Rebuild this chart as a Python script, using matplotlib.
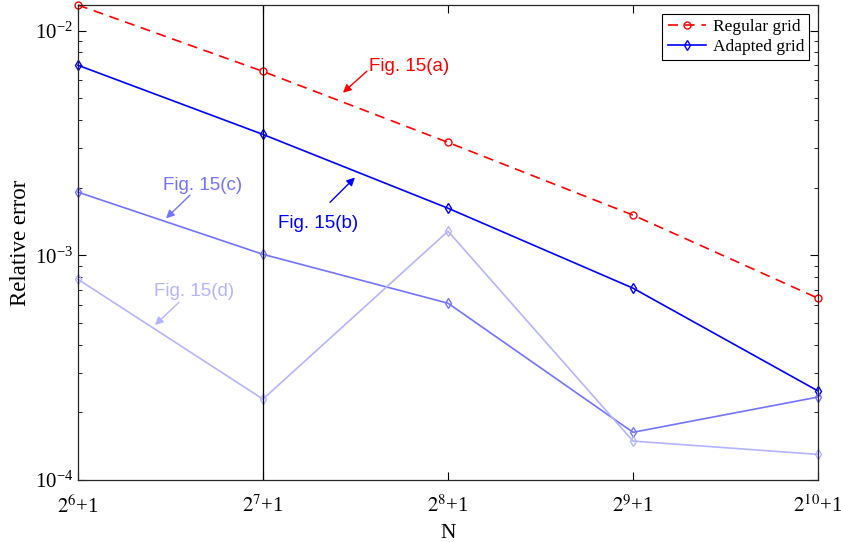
import matplotlib
matplotlib.use("Agg")
import matplotlib.pyplot as plt
from matplotlib.ticker import LogLocator, NullFormatter

# -------------------------------
# Data
# -------------------------------
x_pos = [6, 7, 8, 9, 10]
x_labels = [r"$2^{6}$+1", r"$2^{7}$+1", r"$2^{8}$+1", r"$2^{9}$+1", r"$2^{10}$+1"]

regular_grid = [0.0130, 0.00658, 0.00318, 0.00151, 0.000644]
adapted_grid = [0.00701, 0.00345, 0.00162, 0.000714, 0.000249]
fig15c = [0.00191, 0.00101, 0.000612, 0.000163, 0.000234]
fig15d = [0.000782, 0.000229, 0.00128, 0.000149, 0.000130]

# annotation labels: text position, arrow tail, arrow head (data coords)
ann_labels = ["Fig. 15(a)", "Fig. 15(b)", "Fig. 15(c)", "Fig. 15(d)"]
ann_text_xy = [(7.573, 0.00664), (7.081, 0.00132), (6.459, 0.00196), (6.411, 0.000658)]
ann_tail_xy = [(7.562, 0.00660), (7.362, 0.00172), (6.605, 0.00185), (6.546, 0.000618)]
ann_head_xy = [(7.432, 0.00529), (7.497, 0.00222), (6.476, 0.00146), (6.416, 0.000489)]
ann_colors = ["red", "blue", "#7373ff", "#b4b4ff"]

plt.rcParams["font.family"] = ["Liberation Serif", "DejaVu Serif"]
plt.rcParams["mathtext.fontset"] = "stix"
plt.rcParams["axes.unicode_minus"] = False

fig = plt.figure(figsize=(8.41, 5.42), dpi=100)
ax = fig.add_axes([0.0927, 0.1144, 0.8800, 0.8764])

ax.plot(x_pos, regular_grid, "--o", color="red", lw=1.2, ms=5, clip_on=False,
        mfc="none", mew=1.0, label="Regular grid", dashes=(6, 4))
ax.plot(x_pos, adapted_grid, "-d", color="blue", lw=1.2, ms=5, clip_on=False,
        mfc="none", mew=1.0, label="Adapted grid")
ax.plot(x_pos, fig15c, "-d", color="#7373ff", lw=1.2, ms=5, clip_on=False,
        mfc="none", mew=1.0)
ax.plot(x_pos, fig15d, "-d", color="#b4b4ff", lw=1.2, ms=5, clip_on=False,
        mfc="none", mew=1.0)

ax.axvline(7, color="black", lw=0.9)

ax.set_yscale("log")
ax.set_xlim(6, 10)
ax.set_ylim(1e-4, 0.0130)
ax.set_xticks(x_pos)
ax.set_xticklabels(x_labels)
ax.yaxis.set_major_locator(LogLocator(base=10, numticks=10))
ax.yaxis.set_minor_locator(LogLocator(base=10, subs=range(2, 10), numticks=10))
ax.yaxis.set_minor_formatter(NullFormatter())

ax.tick_params(which="both", direction="in", top=True, right=True, labelsize=15)
ax.tick_params(which="major", length=6)
ax.tick_params(which="minor", length=3)
ax.tick_params(axis="x", pad=11)
for s in ax.spines.values():
    s.set_color("#262626")
    s.set_linewidth(0.9)

ax.set_xlabel("N", fontsize=15.5)
ax.set_ylabel("Relative error", fontsize=16.5)
ax.xaxis.set_label_coords(0.5, -0.093)
ax.yaxis.set_label_coords(-0.064, 0.5)

leg = ax.legend(loc="upper right", fontsize=12.5, fancybox=False,
                edgecolor="black", framealpha=1, borderaxespad=0.5,
                handlelength=2.2, handletextpad=0.4, borderpad=0.3,
                labelspacing=0.2)
leg.get_frame().set_linewidth(0.8)

# -------------------------------
# Annotations
# -------------------------------
ann_font = ["Liberation Sans", "DejaVu Sans"]
for lab, txy, tail, head, c in zip(ann_labels, ann_text_xy, ann_tail_xy,
                                   ann_head_xy, ann_colors):
    ax.text(txy[0], txy[1], lab, color=c, fontsize=13.5, family=ann_font,
            ha="left", va="baseline")
    ax.annotate("", xy=head, xytext=tail,
                arrowprops=dict(arrowstyle="-|>", lw=1.0, mutation_scale=12,
                                color=c, shrinkA=0, shrinkB=0))

fig.savefig("out.png", dpi=100)
